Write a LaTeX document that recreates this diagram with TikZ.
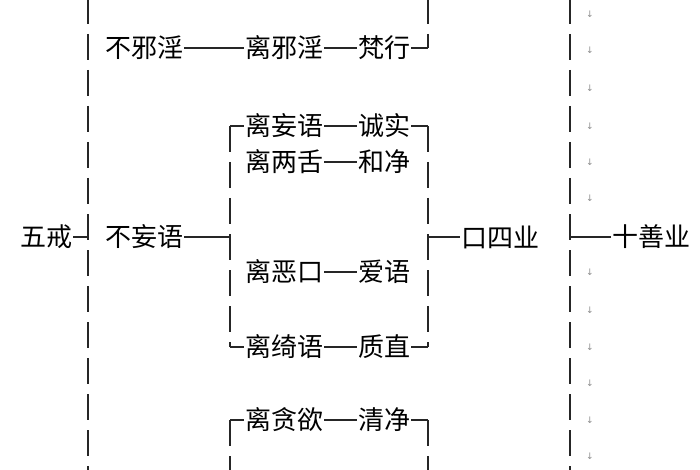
\documentclass[tikz,border=0pt]{standalone}
\usepackage{fontspec}
\setmainfont{Noto Sans CJK SC}
\newfontfamily\arrfont{DejaVu Sans}
\begin{document}
\begin{tikzpicture}[x=1pt,y=-1pt,
  t/.style={inner sep=1pt,font=\fontsize{26}{26}\selectfont,anchor=center},
  ln/.style={line width=1.4pt,black!85},
  dl/.style={ln,dash pattern=on 26pt off 10pt},
  ar/.style={font=\arrfont\fontsize{9}{9}\selectfont,text=black!45}]
\useasboundingbox (0,0) rectangle (700,470);
% vertical dashed lines
\coordinate (L1) at (88,-2); \coordinate (L2) at (88,472);
\draw[dl] (L1) -- (L2);
\coordinate (R1) at (570,-2); \coordinate (R2) at (570,472);
\draw[dl] (R1) -- (R2);
\coordinate (A1) at (428,-2); \coordinate (A2) at (428,48);
\draw[dl] (A1) -- (A2);
\coordinate (B1) at (230,126); \coordinate (B2) at (230,347);
\draw[dl] (B1) -- (B2);
\coordinate (C1) at (428,126); \coordinate (C2) at (428,347);
\draw[dl] (C1) -- (C2);
\coordinate (D1) at (230,420); \coordinate (D2) at (230,472);
\draw[dl] (D1) -- (D2);
\coordinate (E1) at (428,420); \coordinate (E2) at (428,472);
\draw[dl] (E1) -- (E2);
% texts
\node[t] (wj) at (46,237) {五戒};
\node[t] (bxy) at (144,48) {不邪淫};
\node[t] (lxy) at (284,48) {离邪淫};
\node[t] (fx) at (384,48) {梵行};
\node[t] (bwy) at (144,237) {不妄语};
\node[t] (lwy) at (284,126) {离妄语};
\node[t] (cs) at (384,126) {诚实};
\node[t] (lls) at (284,162) {离两舌};
\node[t] (hj) at (384,162) {和净};
\node[t] (lek) at (284,272) {离恶口};
\node[t] (ay) at (384,272) {爱语};
\node[t] (lqy) at (284,347) {离绮语};
\node[t] (zz) at (384,347) {质直};
\node[t] (ltq) at (284,420) {离贪欲};
\node[t] (qj) at (384,420) {清净};
\node[t] (ksy) at (500,237) {口四业};
\node[t] (ssy) at (651,237) {十善业};
% connectors
\coordinate (p1) at (88,237); \draw[ln] (wj) -- (p1);
\draw[ln] (bxy) -- (lxy); \draw[ln] (lxy) -- (fx);
\draw[ln] (fx) -- (A2);
\draw[ln] (lwy) -- (cs); \draw[ln] (lls) -- (hj); \draw[ln] (lek) -- (ay);
\draw[ln] (lqy) -- (zz); \draw[ln] (ltq) -- (qj);
\coordinate (p2) at (230,237); \draw[ln] (bwy) -- (p2);
\draw[ln] (B1) -- (lwy); \draw[ln] (cs) -- (C1);
\draw[ln] (B2) -- (lqy); \draw[ln] (zz) -- (C2);
\draw[ln] (D1) -- (ltq); \draw[ln] (qj) -- (E1);
\coordinate (p3) at (428,237); \draw[ln] (p3) -- (ksy);
\coordinate (p4) at (570,237); \draw[ln] (p4) -- (ssy);
% small arrows
\foreach \y/\n in {14/a,50/b,88/c,126/d,162/e,198/f,272/g,310/h,347/i,383/j,420/k,456/l}
  \node[ar] (ar\n) at (590,\y) {↓};
\end{tikzpicture}
\end{document}
